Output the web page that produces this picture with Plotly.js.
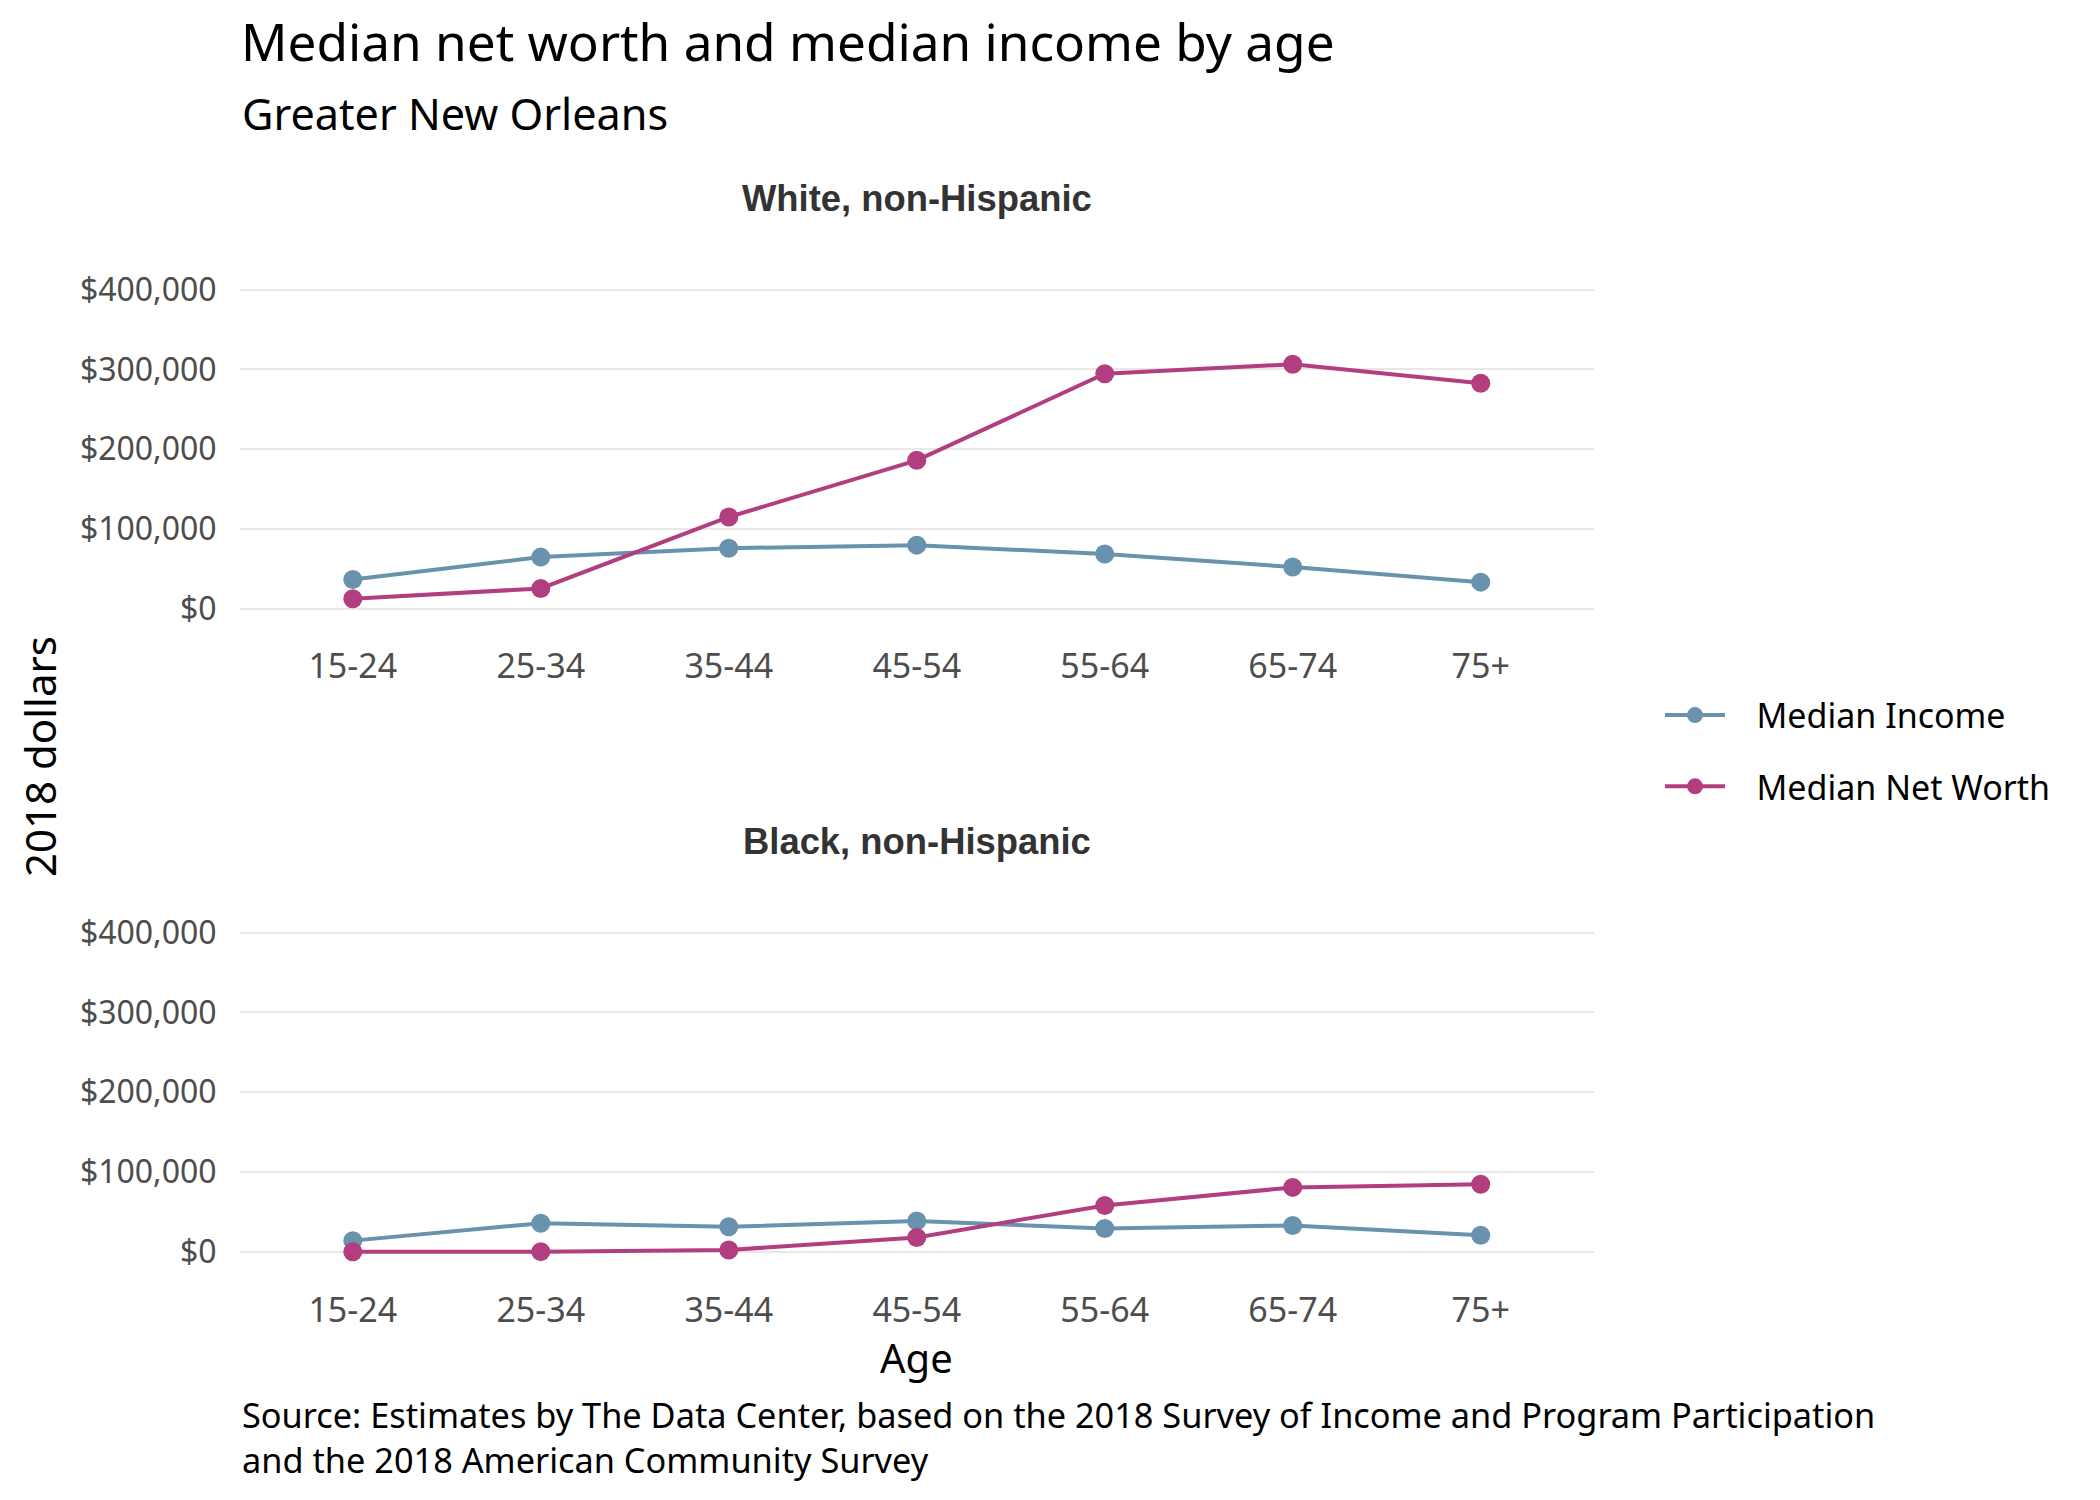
<!DOCTYPE html>
<html>
<head>
<meta charset="utf-8">
<script src="https://cdn.plot.ly/plotly-3.0.1.min.js"></script>
<style>html,body{margin:0;padding:0;background:#fff;}#chart{width:2100px;height:1500px;}</style>
</head>
<body>
<div id="chart"></div>
<script>
const ages = ['15-24', '25-34', '35-44', '45-54', '55-64', '65-74', '75+'];
const whiteIncome = [36500, 64600, 75800, 79600, 68500, 52200, 33200];
const whiteNetWorth = [12400, 25300, 114900, 186000, 294600, 306400, 282700];
const blackIncome = [14000, 35800, 31300, 38600, 29100, 33000, 20700];
const blackNetWorth = [100, 200, 2300, 17900, 58100, 80700, 84600];
const yTickVals = [0, 100000, 200000, 300000, 400000];
const yTickText = ['$0', '$100,000', '$200,000', '$300,000', '$400,000'];
const panelTitles = ['White, non-Hispanic', 'Black, non-Hispanic'];
const seriesNames = ['Median Income', 'Median Net Worth'];

const colIncome = 'rgb(104,146,173)';
const colNW = 'rgb(178,62,128)';
const FONT = 'Noto Sans, sans-serif';
const GAP = '\u00A0\u00A0\u00A0';

function tr(y, name, color, xa, ya, show) {
  return {
    type: 'scatter', mode: 'lines+markers', x: ages, y: y, name: GAP + name,
    xaxis: xa, yaxis: ya, showlegend: show, legendgroup: name,
    line: {color: color, width: 4},
    marker: {color: color, size: 19}
  };
}

const data = [
  tr(whiteIncome, seriesNames[0], colIncome, 'x', 'y', true),
  tr(whiteNetWorth, seriesNames[1], colNW, 'x', 'y', true),
  tr(blackIncome, seriesNames[0], colIncome, 'x2', 'y2', false),
  tr(blackNetWorth, seriesNames[1], colNW, 'x2', 'y2', false)
];

const xDomain = [240/2100, 1593.5/2100];
function xax(anchor) {
  return {
    type: 'category', categoryorder: 'array', categoryarray: ages,
    range: [-0.6, 6.6], domain: xDomain, anchor: anchor,
    showgrid: false, showline: false, zeroline: false,
    ticks: 'outside', ticklen: 12, tickcolor: 'rgba(0,0,0,0)',
    tickfont: {family: FONT, size: 34, color: '#4d4d4d'}
  };
}
function yax(domain, anchor) {
  return {
    domain: domain, anchor: anchor, range: [-20000, 420000],
    tickvals: yTickVals, ticktext: yTickText,
    showgrid: true, gridcolor: '#e8e8e8', gridwidth: 2,
    zeroline: false, showline: false,
    ticks: 'outside', ticklen: 16, tickcolor: 'rgba(0,0,0,0)',
    tickfont: {family: FONT, size: 32, color: '#4d4d4d'}
  };
}

const layout = {
  width: 2100, height: 1500,
  margin: {l: 0, r: 0, t: 0, b: 0},
  paper_bgcolor: '#fff', plot_bgcolor: '#fff',
  font: {family: FONT, color: '#000'},
  title: {
    text: 'Median net worth and median income by age',
    x: 241/2100, xanchor: 'left', xref: 'paper',
    y: 1 - 43/1500, yanchor: 'middle', yref: 'container',
    font: {family: FONT, size: 51.3, color: '#000'}
  },
  xaxis: xax('y'),
  yaxis: yax([0.58363, 0.8175], 'x'),
  xaxis2: xax('y2'),
  yaxis2: yax([0.15483, 0.38891], 'x2'),
  showlegend: true,
  legend: {
    x: 1660/2100, xanchor: 'left', y: 1 - 751/1500, yanchor: 'middle',
    font: {family: FONT, size: 34, color: '#000'},
    itemwidth: 60, tracegroupgap: 24, traceorder: 'grouped',
    bgcolor: 'rgba(0,0,0,0)'
  },
  annotations: [
    {text: 'Greater New Orleans', xref: 'paper', yref: 'paper', x: 240/2100, y: 1 - 113/1500,
     xanchor: 'left', yanchor: 'middle', showarrow: false, font: {family: FONT, size: 43.2, color: '#000'}},
    {text: '<b>' + panelTitles[0] + '</b>', xref: 'paper', yref: 'paper', x: (xDomain[0]+xDomain[1])/2, y: 1 - 198/1500,
     xanchor: 'center', yanchor: 'middle', showarrow: false, font: {family: 'Liberation Sans, Arial, sans-serif', size: 36.4, color: '#333333'}},
    {text: '<b>' + panelTitles[1] + '</b>', xref: 'paper', yref: 'paper', x: (xDomain[0]+xDomain[1])/2, y: 1 - 841.5/1500,
     xanchor: 'center', yanchor: 'middle', showarrow: false, font: {family: 'Liberation Sans, Arial, sans-serif', size: 36.4, color: '#333333'}},
    {text: '2018 dollars', xref: 'paper', yref: 'paper', x: 39/2100, y: 1 - 757/1500, textangle: -90,
     xanchor: 'center', yanchor: 'middle', showarrow: false, font: {family: FONT, size: 42, color: '#000'}},
    {text: 'Age', xref: 'paper', yref: 'paper', x: (xDomain[0]+xDomain[1])/2, y: 1 - 1357/1500,
     xanchor: 'center', yanchor: 'middle', showarrow: false, borderpad: 0, font: {family: FONT, size: 40, color: '#000'}},
    {text: 'Source: Estimates by The Data Center, based on the 2018 Survey of Income and Program Participation<br>and the 2018 American Community Survey',
     xref: 'paper', yref: 'paper', x: 240/2100, y: 1 - 1437/1500, align: 'left',
     xanchor: 'left', yanchor: 'middle', showarrow: false, font: {family: FONT, size: 34.3, color: '#000'}}
  ]
};

Plotly.newPlot('chart', data, layout, {displayModeBar: false, staticPlot: true});
</script>
</body>
</html>
